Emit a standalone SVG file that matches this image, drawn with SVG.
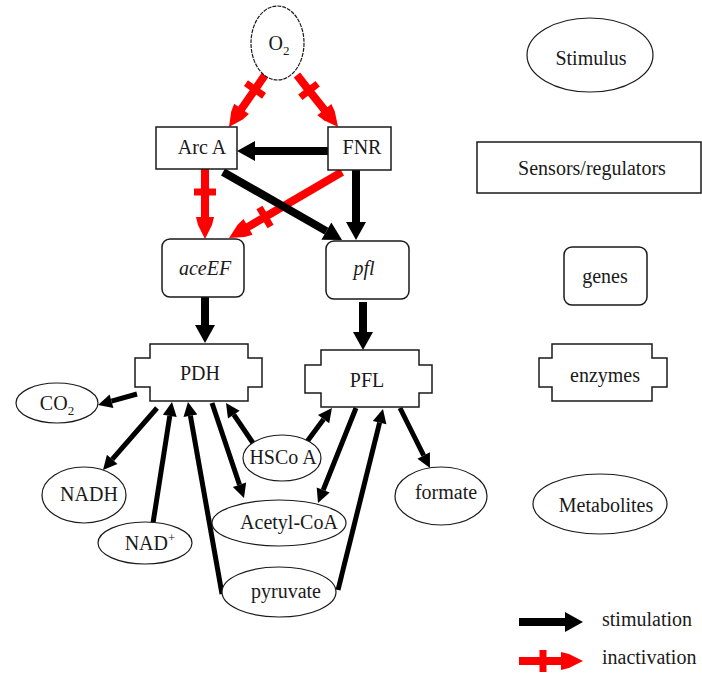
<svg xmlns="http://www.w3.org/2000/svg" width="702" height="673" viewBox="0 0 702 673" font-family="'Liberation Serif', 'DejaVu Serif', serif">
<style>
text{font-family:"Liberation Serif","DejaVu Serif",serif;font-size:20px;fill:#1a1a1a;text-anchor:middle}
.it{font-style:italic}
.shape{fill:#fff;stroke:#1a1a1a;stroke-width:1.5}
.ell{fill:#fff;stroke:#1a1a1a;stroke-width:1.2}
.s{stroke:#000;stroke-width:5;fill:none;marker-end:url(#hs)}
.b{stroke:#000;stroke-width:8;fill:none;marker-end:url(#hb)}
.r{stroke:#f00;stroke-width:8;fill:none;marker-end:url(#hr);marker-mid:url(#xb)}
</style>
<defs>
<marker id="hs" markerUnits="userSpaceOnUse" orient="auto" refX="0" refY="0" markerWidth="20" markerHeight="20" overflow="visible"><path d="M0,-7 L14,0 L0,7 Z" fill="#000"/></marker>
<marker id="hb" markerUnits="userSpaceOnUse" orient="auto" refX="0" refY="0" markerWidth="24" markerHeight="24" overflow="visible"><path d="M0,-10 L18,0 L0,10 Z" fill="#000"/></marker>
<marker id="hr" markerUnits="userSpaceOnUse" orient="auto" refX="0" refY="0" markerWidth="24" markerHeight="24" overflow="visible"><path d="M-2,-9 L6,-7 L20,0 L6,7 L-2,9 Z" fill="#f00"/></marker>
<marker id="xb" markerUnits="userSpaceOnUse" orient="auto" refX="0" refY="0" markerWidth="24" markerHeight="24" overflow="visible"><path d="M-3.5,-11 H3.5 V11 H-3.5 Z" fill="#f00"/></marker>
</defs>
<rect width="702" height="673" fill="#fff"/>

<g id="connectors">
<path class="r" d="M265,75 L255,89.5 L240.4,110.5"/>
<path class="r" d="M297,75 L309,90.5 L325.6,111.3"/>
<path class="r" d="M205,169 L205,192 L205,219"/>
<path class="r" d="M342,172 L265,217 L246.3,227.9"/>
<path class="b" d="M328,151 L255,151"/>
<path class="b" d="M223,172 L326.4,231.1"/>
<path class="b" d="M356,170 L356,222"/>
<path class="b" d="M205,297 L205,325"/>
<path class="b" d="M363,302 L363,332"/>
<path class="s" d="M137,394 L111.5,401.2"/>
<path class="s" d="M157,408 L112.2,459.4"/>
<path class="s" d="M153,523 L169.8,415.8"/>
<path class="s" d="M222,594 L190.4,415.8"/>
<path class="s" d="M212,403 L239.5,484.7"/>
<path class="s" d="M253,443 L233.8,414.6"/>
<path class="s" d="M303,447 L323.6,419.2"/>
<path class="s" d="M356,408 L323.2,490"/>
<path class="s" d="M338,590 L379.6,422.6"/>
<path class="s" d="M400,408 L423.7,455.5"/>
</g>

<g id="O2"><ellipse class="ell" cx="277.5" cy="43" rx="26.5" ry="37" stroke-dasharray="4,1"/><text x="279" y="50">O<tspan font-size="13" dy="5">2</tspan></text></g>
<g id="ArcA"><rect class="shape" x="156" y="127" width="81" height="42"/><text x="202" y="154">Arc A</text></g>
<g id="FNR"><rect class="shape" x="328" y="127" width="63" height="43"/><text x="362" y="154">FNR</text></g>
<g id="aceEF"><rect class="shape" x="162" y="239" width="82" height="58" rx="8"/><text class="it" x="205" y="275">aceEF</text></g>
<g id="pfl"><rect class="shape" x="326" y="241" width="83" height="58" rx="8"/><text class="it" x="364" y="275">pfl</text></g>
<g id="PDH"><path class="shape" d="M150,344 H248 V358 H262 V387 H248 V401 H150 V387 H135 V358 H150 Z"/><text x="200" y="380">PDH</text></g>
<g id="PFL"><path class="shape" d="M321,350 H419 V365 H432 V393 H419 V407 H321 V393 H305 V365 H321 Z"/><text x="367" y="387">PFL</text></g>
<g id="CO2"><ellipse class="ell" cx="57" cy="403" rx="41" ry="20"/><text x="57" y="410">CO<tspan font-size="13" dy="5">2</tspan></text></g>
<g id="NADH"><ellipse class="ell" cx="84" cy="495" rx="42" ry="28"/><text x="89" y="501">NADH</text></g>
<g id="NADplus"><ellipse class="ell" cx="145" cy="543" rx="47" ry="21"/><text x="150" y="550">NAD<tspan font-size="13" dy="-8">+</tspan></text></g>
<g id="HSCoA"><ellipse class="ell" cx="282" cy="458" rx="39" ry="23"/><text x="283" y="464">HSCo A</text></g>
<g id="AcetylCoA"><ellipse class="ell" cx="279" cy="523" rx="67" ry="23"/><text x="289" y="529">Acetyl-CoA</text></g>
<g id="formate"><ellipse class="ell" cx="441" cy="496" rx="46" ry="29"/><text x="446" y="499">formate</text></g>
<g id="pyruvate"><ellipse class="ell" cx="279" cy="592" rx="57" ry="25"/><text x="286" y="598">pyruvate</text></g>

<g id="legend-stimulus"><ellipse class="ell" cx="590" cy="55" rx="63" ry="37"/><text x="591" y="65">Stimulus</text></g>
<g id="legend-sensors"><rect class="shape" x="477" y="142" width="224" height="51"/><text x="592" y="175">Sensors/regulators</text></g>
<g id="legend-genes"><rect class="shape" x="564" y="247" width="83" height="58" rx="8"/><text x="605" y="283">genes</text></g>
<g id="legend-enzymes"><path class="shape" d="M552,344 H652 V358 H667 V387 H652 V401 H552 V387 H539 V358 H552 Z"/><text x="605" y="382">enzymes</text></g>
<g id="legend-metabolites"><ellipse class="ell" cx="600" cy="504" rx="67" ry="30"/><text x="606" y="512">Metabolites</text></g>
<g id="legend-stimulation"><path class="b" d="M519,622 L565,622"/><text x="602" y="626" style="text-anchor:start">stimulation</text></g>
<g id="legend-inactivation"><path class="r" d="M519,661 L543,661 L563,661"/><text x="602" y="664" style="text-anchor:start">inactivation</text></g>
</svg>
